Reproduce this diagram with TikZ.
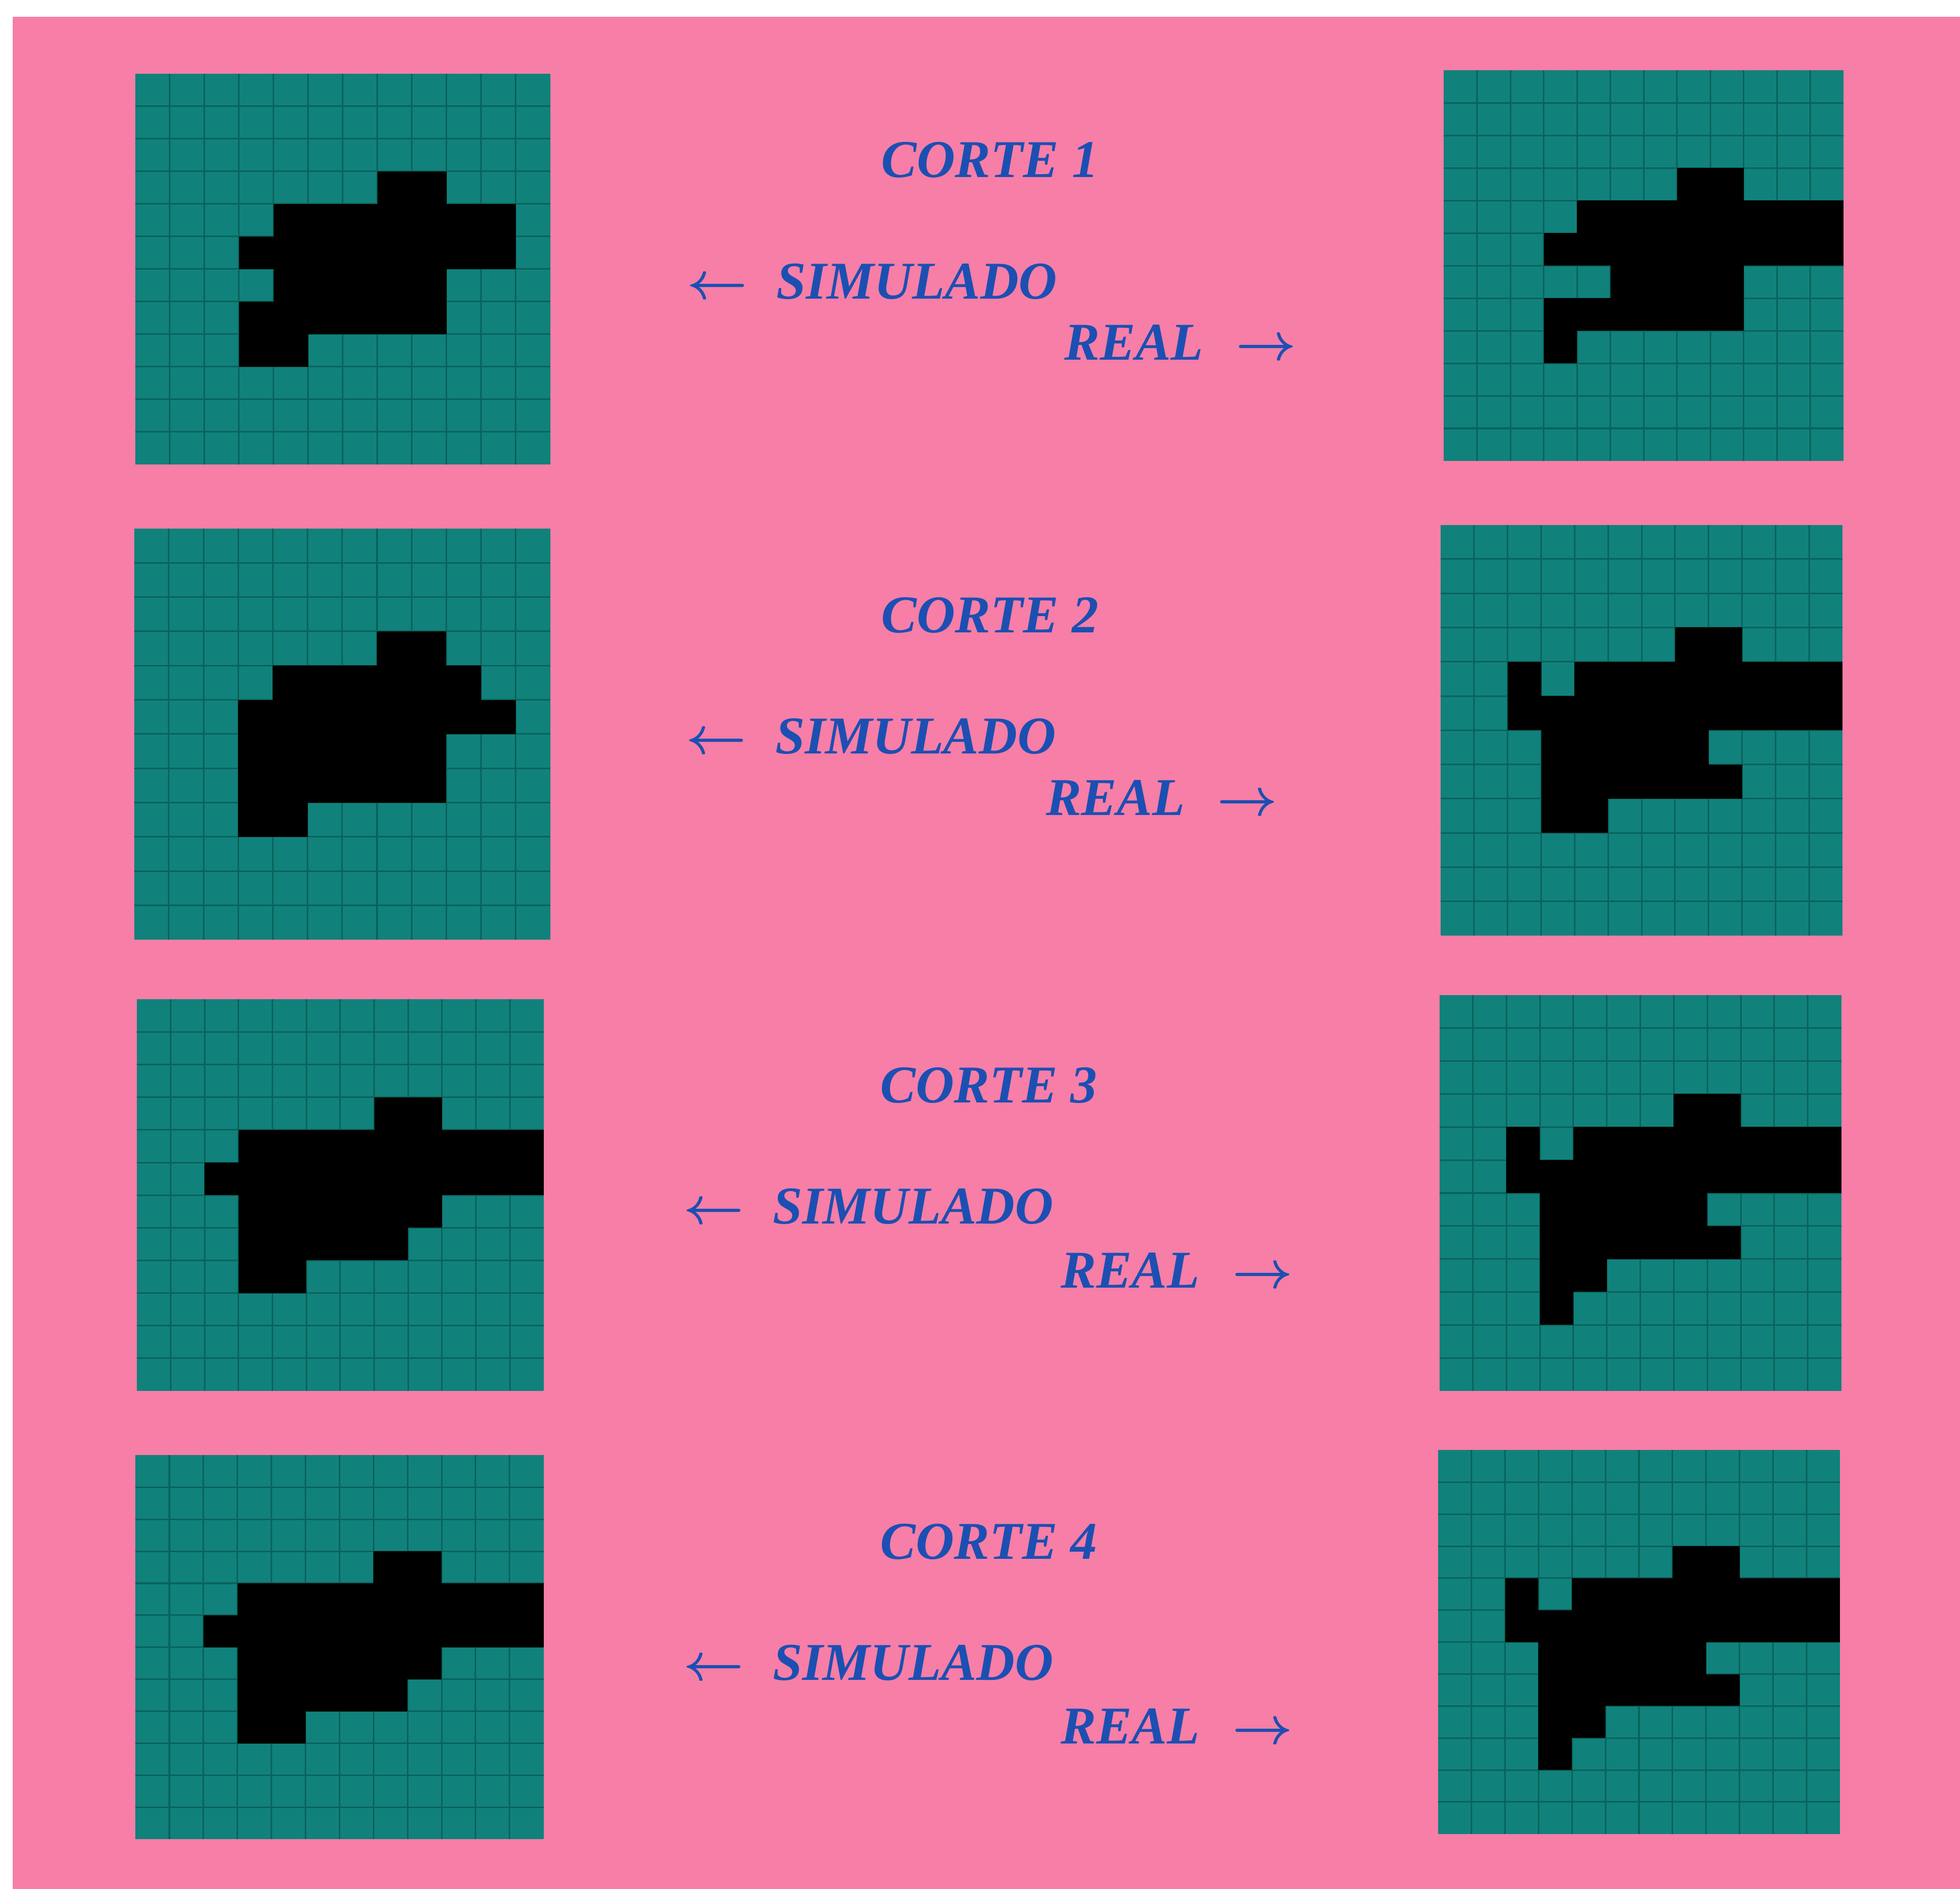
\documentclass[tikz,border=0pt]{standalone}
\usepackage{fontspec}
\setmainfont{Liberation Serif}
\definecolor{bgpink}{HTML}{F77EA7}
\definecolor{tealfill}{HTML}{10827B}
\definecolor{tealline}{HTML}{0A625C}
\definecolor{txtblue}{HTML}{1C4FB2}
\tikzset{
  gline/.style={draw=tealline, line width=0.35pt},
  lbl/.style={text=txtblue, font=\fontsize{12.1}{14}\selectfont\bfseries\itshape, inner sep=0pt},
}
\newcommand{\cellgrid}[5]{%
  \begin{scope}[shift={(#1,#2)}, xscale=#3/12, yscale=#4/12]
    \fill[tealfill] (0,0) rectangle (12,12);
    \foreach \i in {1,...,11} {
      \draw[gline] (\i,0) -- (\i,12);
      \draw[gline] (0,\i) -- (12,\i);
    }
    \foreach \r/\a/\b in {#5} {
      \fill[black] (\a,\r) rectangle ({\b+1},{\r+1});
    }
  \end{scope}}
\newcommand{\larr}{{\boldmath$\leftarrow$}}
\newcommand{\rarr}{{\boldmath$\rightarrow$}}
\begin{document}
\begin{tikzpicture}[x=0.1mm, y=-0.1mm]
\useasboundingbox (0,0) rectangle (1568,1511);
\fill[white] (0,0) rectangle (1568,1511);
\fill[bgpink] (10.2,13.4) rectangle (1568,1511);

% row 1
\cellgrid{108.2}{59.0}{332.1}{312.5}{3/7/8, 4/4/10, 5/3/10, 6/4/8, 7/3/8, 8/3/4}
\cellgrid{1155}{56.2}{320}{312.5}{3/7/8, 4/4/11, 5/3/11, 6/5/8, 7/3/8, 8/3/3}
% row 2
\cellgrid{107.3}{422.8}{333}{328.8}{3/7/8, 4/4/9, 5/3/10, 6/3/8, 7/3/8, 8/3/4}
\cellgrid{1152.5}{419.8}{321.5}{328.6}{3/7/8, 4/2/2, 4/4/11, 5/2/11, 6/3/7, 7/3/8, 8/3/4}
% row 3
\cellgrid{109.5}{799.4}{325.4}{313.2}{3/7/8, 4/3/11, 5/2/11, 6/3/8, 7/3/7, 8/3/4}
\cellgrid{1151.5}{796}{321.5}{316.6}{3/7/8, 4/2/2, 4/4/11, 5/2/11, 6/3/7, 7/3/8, 8/3/4, 9/3/3}
% row 4
\cellgrid{108.3}{1164}{326.6}{307.3}{3/7/8, 4/3/11, 5/2/11, 6/3/8, 7/3/7, 8/3/4}
\cellgrid{1150.4}{1160}{321.6}{307}{3/7/8, 4/2/2, 4/4/11, 5/2/11, 6/3/7, 7/3/8, 8/3/4, 9/3/3}

% labels
\node[lbl, anchor=base] (c1) at (792,142) {CORTE 1};
\node[lbl, anchor=base west] (s1) at (549,239) {\larr\hspace{2.3mm}SIMULADO};
\node[lbl, anchor=base west] (r1) at (851,288) {REAL\hspace{2.6mm}\rarr};

\node[lbl, anchor=base] (c2) at (792,506) {CORTE 2};
\node[lbl, anchor=base west] (s2) at (548,603) {\larr\hspace{2.3mm}SIMULADO};
\node[lbl, anchor=base west] (r2) at (836,652) {REAL\hspace{2.6mm}\rarr};

\node[lbl, anchor=base] (c3) at (791,882) {CORTE 3};
\node[lbl, anchor=base west] (s3) at (546,979) {\larr\hspace{2.3mm}SIMULADO};
\node[lbl, anchor=base west] (r3) at (848,1030) {REAL\hspace{2.6mm}\rarr};

\node[lbl, anchor=base] (c4) at (791,1247) {CORTE 4};
\node[lbl, anchor=base west] (s4) at (546,1344) {\larr\hspace{2.3mm}SIMULADO};
\node[lbl, anchor=base west] (r4) at (848,1395) {REAL\hspace{2.6mm}\rarr};
\end{tikzpicture}
\end{document}
